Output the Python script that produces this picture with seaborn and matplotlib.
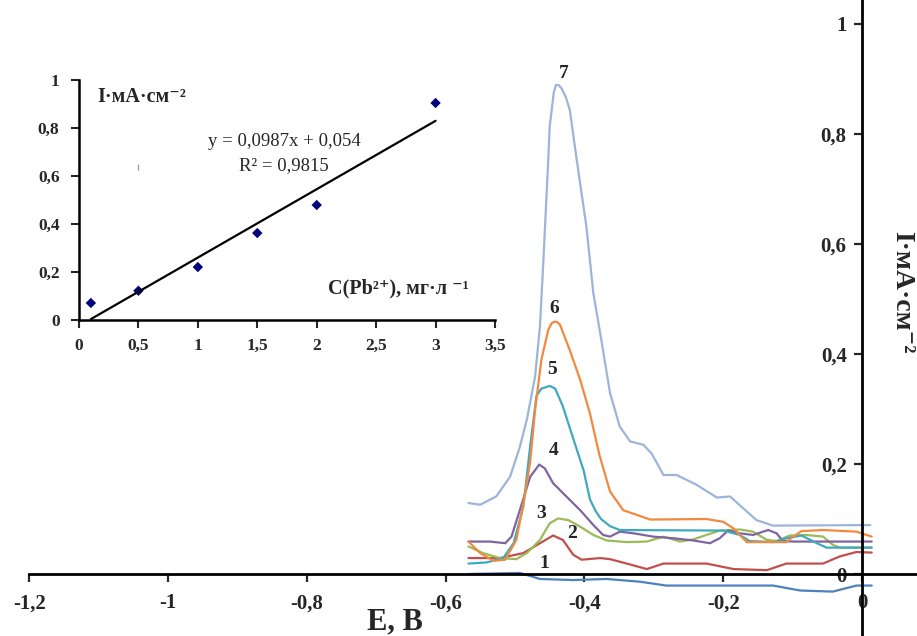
import numpy as np
import pandas as pd
import matplotlib
matplotlib.use('Agg')
import matplotlib.pyplot as plt
import seaborn as sns

sns.set_style('white')
plt.rcParams['font.family'] = ['Liberation Serif', 'DejaVu Serif']
plt.rcParams['font.weight'] = 'bold'

# ---------------- main voltammograms ----------------
E1 = [-0.567, -0.493, -0.464, -0.416, -0.368, -0.320, -0.282, -0.128, -0.089, -0.042, -0.008, 0.014]
I1 = [0.000, 0.002, -0.009, -0.011, -0.009, -0.014, -0.021, -0.021, -0.030, -0.032, -0.021, -0.021]

E2 = [-0.567, -0.522, -0.488, -0.464, -0.445, -0.431, -0.416, -0.404, -0.377, -0.363, -0.339, -0.310,
      -0.286, -0.224, -0.185, -0.137, -0.109, -0.056, -0.032, -0.008, 0.014]
I2 = [0.029, 0.029, 0.038, 0.056, 0.070, 0.062, 0.035, 0.026, 0.029, 0.027, 0.019, 0.009,
      0.019, 0.019, 0.009, 0.007, 0.019, 0.019, 0.032, 0.040, 0.039]

E3 = [-0.567, -0.546, -0.522, -0.498, -0.483, -0.464, -0.450, -0.438, -0.423, -0.406, -0.387, -0.368,
      -0.339, -0.310, -0.286, -0.262, -0.243, -0.224, -0.205, -0.176, -0.157, -0.137, -0.123, -0.104,
      -0.080, -0.056, -0.042, -0.032, 0.014]
I3 = [0.050, 0.038, 0.029, 0.027, 0.038, 0.062, 0.092, 0.101, 0.098, 0.086, 0.071, 0.061,
      0.058, 0.059, 0.068, 0.059, 0.063, 0.071, 0.079, 0.081, 0.077, 0.062, 0.060, 0.070,
      0.071, 0.068, 0.053, 0.048, 0.048]

E4 = [-0.567, -0.536, -0.514, -0.505, -0.493, -0.478, -0.465, -0.457, -0.445, -0.426, -0.406, -0.387,
      -0.373, -0.363, -0.349, -0.329, -0.301, -0.272, -0.243, -0.219, -0.205, -0.193, -0.176, -0.157,
      -0.135, -0.123, -0.114, -0.099, 0.014]
I4 = [0.059, 0.059, 0.056, 0.068, 0.116, 0.177, 0.199, 0.192, 0.165, 0.141, 0.116, 0.089,
      0.071, 0.068, 0.077, 0.074, 0.068, 0.065, 0.061, 0.056, 0.065, 0.079, 0.074, 0.071,
      0.080, 0.074, 0.060, 0.059, 0.059]

E5 = [-0.567, -0.541, -0.517, -0.502, -0.488, -0.478, -0.469, -0.462, -0.450, -0.442, -0.431, -0.416,
      -0.401, -0.392, -0.384, -0.376, -0.363, -0.349, -0.200, -0.176, -0.162, -0.128, -0.109, -0.087,
      -0.065, -0.051, 0.014]
I5 = [0.019, 0.021, 0.029, 0.056, 0.122, 0.233, 0.324, 0.337, 0.342, 0.337, 0.305, 0.246,
      0.188, 0.136, 0.115, 0.100, 0.087, 0.080, 0.079, 0.071, 0.060, 0.058, 0.065, 0.070,
      0.056, 0.048, 0.048]

E6 = [-0.567, -0.550, -0.531, -0.514, -0.498, -0.486, -0.478, -0.471, -0.462, -0.452, -0.447, -0.443,
      -0.439, -0.435, -0.421, -0.406, -0.392, -0.378, -0.363, -0.344, -0.305, -0.224, -0.200, -0.185,
      -0.166, -0.109, -0.099, -0.087, -0.056, -0.008, 0.014]
I6 = [0.059, 0.038, 0.024, 0.026, 0.062, 0.141, 0.205, 0.298, 0.389, 0.444, 0.456, 0.459,
      0.458, 0.453, 0.407, 0.353, 0.292, 0.215, 0.150, 0.116, 0.099, 0.100, 0.095, 0.083,
      0.058, 0.058, 0.068, 0.078, 0.080, 0.077, 0.068]

E7 = [-0.567, -0.550, -0.527, -0.507, -0.493, -0.483, -0.471, -0.464, -0.459, -0.452, -0.450, -0.447,
      -0.444, -0.441, -0.437, -0.433, -0.427, -0.421, -0.411, -0.397, -0.387, -0.378, -0.363, -0.349,
      -0.334, -0.315, -0.303, -0.286, -0.267, -0.238, -0.209, -0.190, -0.176, -0.152, -0.128, 0.012]
I7 = [0.129, 0.126, 0.141, 0.177, 0.231, 0.280, 0.359, 0.450, 0.571, 0.753, 0.813, 0.844,
      0.876, 0.889, 0.889, 0.883, 0.868, 0.844, 0.753, 0.631, 0.510, 0.444, 0.329, 0.268,
      0.241, 0.235, 0.219, 0.180, 0.180, 0.162, 0.139, 0.141, 0.125, 0.098, 0.088, 0.089]

curve_names = ['1', '2', '3', '4', '5', '6', '7']
curve_E = [E1, E2, E3, E4, E5, E6, E7]
curve_I = [I1, I2, I3, I4, I5, I6, I7]
curve_colors = ['#4F81BD', '#C0504D', '#9BBB59', '#8064A2', '#3FA9C0', '#F08A3E', '#9DB4DB']
label_E = [-0.457, -0.417, -0.462, -0.444, -0.446, -0.443, -0.430]
label_I = [0.019, 0.073, 0.110, 0.225, 0.371, 0.483, 0.910]

x_ticks = [-1.2, -1.0, -0.8, -0.6, -0.4, -0.2, 0.0]
x_ticklabels = ['-1,2', '-1', '-0,8', '-0,6', '-0,4', '-0,2', '0']
y_ticks = [0, 0.2, 0.4, 0.6, 0.8, 1.0]
y_ticklabels = ['0', '0,2', '0,4', '0,6', '0,8', '1']

# ---------------- inset calibration ----------------
conc = [0.1, 0.5, 1.0, 1.5, 2.0, 3.0]
resp = [0.069, 0.120, 0.219, 0.361, 0.478, 0.904]
stray_x = [0.497]
stray_y = [0.636]
in_x_ticks = [0, 0.5, 1, 1.5, 2, 2.5, 3, 3.5]
in_x_labels = ['0', '0,5', '1', '1,5', '2', '2,5', '3', '3,5']
in_y_ticks = [0, 0.2, 0.4, 0.6, 0.8, 1.0]
in_y_labels = ['0', '0,2', '0,4', '0,6', '0,8', '1']

fig = plt.figure(figsize=(9.17, 6.36), dpi=100)
ax = fig.add_axes([0, 0, 1, 1])
ax.set_facecolor('none')

df = pd.concat([pd.DataFrame({'E': e, 'I': i, 'curve': n})
                for e, i, n in zip(curve_E, curve_I, curve_names)], ignore_index=True)
sns.lineplot(data=df, x='E', y='I', hue='curve', palette=dict(zip(curve_names, curve_colors)),
             estimator=None, sort=False, linewidth=1.6, legend=False, ax=ax)
for line in ax.get_lines():
    line.set_solid_joinstyle('round')
    line.set_solid_capstyle('round')

for n, xe, yi in zip(curve_names, label_E, label_I):
    ax.text(xe, yi, n, ha='center', va='center', fontsize=14, fontweight='bold')

ax.set_xlim(-1.242, 0.0793)
ax.set_ylim(-0.1127, 1.0436)
for s in ['top', 'right']:
    ax.spines[s].set_visible(False)
ax.spines['left'].set_position(('data', 0))
ax.spines['bottom'].set_position(('data', 0))
ax.spines['left'].set_linewidth(2.0)
ax.spines['bottom'].set_linewidth(2.0)
ax.spines['left'].set_color('black')
ax.spines['bottom'].set_color('black')
ax.spines['bottom'].set_bounds(-1.2, 0.0793)
ax.set_xticks(x_ticks)
ax.set_xticklabels(x_ticklabels)
ax.set_yticks(y_ticks)
ax.set_yticklabels(y_ticklabels)
ax.tick_params(axis='x', direction='out', length=6, width=1.6, pad=8, labelsize=15, bottom=True)
ax.tick_params(axis='y', direction='out', length=6, width=1.6, pad=5, labelsize=15, left=True)
ax.set_xlabel('')
ax.set_ylabel('')

fig.text(395 / 917, 1 - 622 / 636, 'E, B', ha='center', va='center', fontsize=22, fontweight='bold')
fig.text(902 / 917, 1 - 292 / 636, 'I·мА·см⁻²', ha='center', va='center', rotation=270,
         fontsize=20, fontweight='bold')

# ---------------- inset ----------------
axin = fig.add_axes([79 / 917, (636 - 319.5) / 636, 416 / 917, 239.5 / 636])
axin.set_facecolor('none')
sns.regplot(x=conc, y=resp, scatter=False, ci=None, color='black',
            line_kws={'linewidth': 1.6}, ax=axin)
sns.scatterplot(x=conc, y=resp, marker='D', color='#00007A', s=28, edgecolor='none', ax=axin)
axin.plot(stray_x, stray_y, marker='|', color='#9AA5B0', ms=5, mew=1, linestyle='none')
axin.set_xlim(0, 3.5)
axin.set_ylim(0, 1)
for s in ['top', 'right']:
    axin.spines[s].set_visible(False)
for s in ['left', 'bottom']:
    axin.spines[s].set_linewidth(1.8)
    axin.spines[s].set_color('black')
axin.set_xticks(in_x_ticks)
axin.set_xticklabels(in_x_labels)
axin.set_yticks(in_y_ticks)
axin.set_yticklabels(in_y_labels)
axin.tick_params(axis='x', direction='out', length=6, width=1.5, pad=7, labelsize=12.5, bottom=True)
axin.tick_params(axis='y', direction='out', length=6, width=1.5, pad=8, labelsize=12.5, left=True)
axin.set_xlabel('')
axin.set_ylabel('')

axin.text(0.15, 0.929, 'I·мА·см⁻²', ha='left', va='center', fontsize=14.5, fontweight='bold')
axin.text(2.096, 0.131, 'C(Pb²⁺), мг·л ⁻¹', ha='left', va='center', fontsize=14.5, fontweight='bold')
axin.text(1.73, 0.745, 'y = 0,0987x + 0,054', ha='center', va='center', fontsize=13.5,
          fontweight='normal')
axin.text(1.72, 0.641, 'R² = 0,9815', ha='center', va='center', fontsize=13.5, fontweight='normal')

fig.savefig('out.png', dpi=100)
